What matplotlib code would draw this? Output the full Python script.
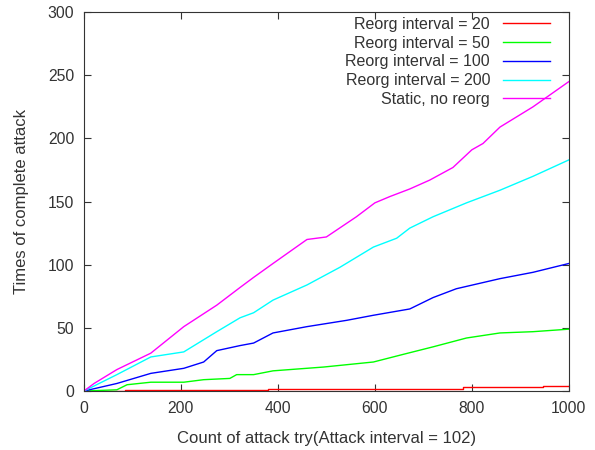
import numpy as np
import matplotlib.pyplot as plt

plt.rcParams['font.family'] = ['Liberation Sans', 'DejaVu Sans']

# values, per series
static_x = [0, 21, 68, 138, 206, 274, 322, 350, 390, 460, 500, 562, 600, 631,
            672, 713, 761, 800, 823, 858, 926, 1000]
static_y = [0, 6, 17, 30, 51, 68, 82, 90, 101, 120, 122, 138, 149, 154,
            160, 167, 177, 191, 196, 209, 225, 245]

r200_x = [0, 68, 138, 206, 274, 322, 350, 390, 460, 528, 597, 645, 672,
          720, 789, 858, 926, 1000]
r200_y = [0, 13, 27, 31, 47, 58, 62, 72, 84, 98, 114, 121, 129,
          138, 149, 159, 170, 183]

r100_x = [0, 68, 138, 206, 247, 274, 322, 350, 390, 460, 542, 597, 672,
          720, 768, 858, 926, 1000]
r100_y = [0, 6, 14, 18, 23, 32, 36, 38, 46, 51, 56, 60, 65,
          74, 81, 89, 94, 101]

r50_x = [0, 68, 89, 138, 206, 247, 301, 315, 350, 390, 494, 597, 658,
         720, 789, 858, 926, 1000]
r50_y = [0, 1, 5, 7, 7, 9, 10, 13, 13, 16, 19, 23, 29,
         35, 42, 46, 47, 49]

r20_x = [0, 85, 380, 645, 782, 946, 1000]
r20_y = [0, 1, 2, 2, 3, 4, 4]

fig = plt.figure(figsize=(5.95, 4.5), dpi=100)
ax = fig.add_axes([0.141, 0.131, 0.815, 0.842])

ax.plot(r20_x, r20_y, color='#ff0000', lw=1, drawstyle='steps-post', label='Reorg interval = 20')
ax.plot(r50_x, r50_y, color='#00ff00', lw=1, label='Reorg interval = 50')
ax.plot(r100_x, r100_y, color='#0000ff', lw=1, label='Reorg interval = 100')
ax.plot(r200_x, r200_y, color='#00ffff', lw=1, label='Reorg interval = 200')
ax.plot(static_x, static_y, color='#ff00ff', lw=1, label='Static, no reorg')

ax.set_xlim(0, 1000)
ax.set_ylim(0, 300)
ax.set_xticks(np.arange(0, 1001, 200))
ax.set_yticks(np.arange(0, 301, 50))
ax.tick_params(direction='in', top=True, right=True, length=5, labelsize=11.3, colors='#333333', pad=7)
for s in ax.spines.values():
    s.set_color('#333333')

ax.set_xlabel('Count of attack try(Attack interval = 102)', fontsize=12, color='#333333', labelpad=11)
ax.set_ylabel('Times of complete attack', fontsize=12, color='#333333', labelpad=13)

ax.legend(loc='upper right', frameon=False, markerfirst=False, fontsize=11.5,
          handlelength=2.95, handletextpad=0.8, labelspacing=0.23, borderpad=0,
          borderaxespad=0, bbox_to_anchor=(0.961, 0.987), labelcolor='#333333')

fig.savefig('out.png')
